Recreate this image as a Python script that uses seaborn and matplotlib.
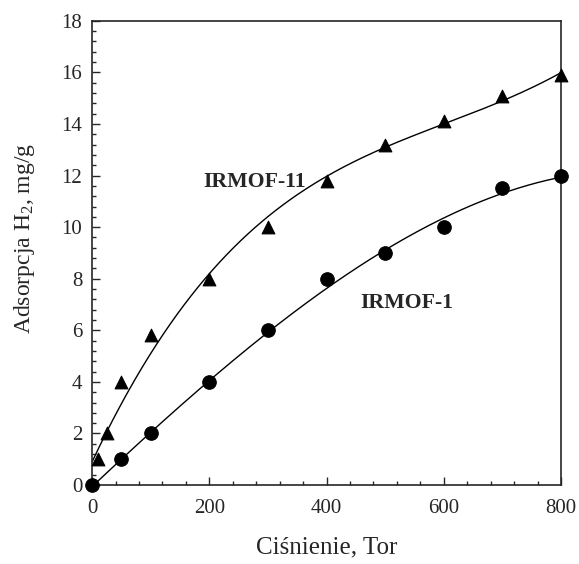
import matplotlib
matplotlib.use('Agg')

import numpy as np
import pandas as pd
import matplotlib.pyplot as plt
import seaborn as sns
from matplotlib.ticker import MultipleLocator

# =========================
# DATA
# =========================
irmof11_p = [10, 25, 50, 100, 200, 300, 400, 500, 600, 700, 800]
irmof11_q = [1.0, 2.0, 4.0, 5.8, 8.0, 10.0, 11.8, 13.2, 14.1, 15.1, 15.9]

irmof1_p = [0, 50, 100, 200, 300, 400, 500, 600, 700, 800]
irmof1_q = [0.0, 1.0, 2.0, 4.0, 6.0, 8.0, 9.0, 10.0, 11.5, 12.0]

# fitted curves as drawn in the figure
fit11_p = [0, 25, 50, 100, 150, 200, 300, 400, 500, 600, 700, 800]
fit11_q = [0.85, 2.1, 3.05, 5.35, 6.85, 7.9, 10.4, 12.1, 13.1, 13.95, 14.9, 16.0]

fit1_p = [0, 100, 200, 300, 400, 500, 600, 700, 800]
fit1_q = [0.0, 1.95, 4.0, 6.0, 7.65, 9.15, 10.35, 11.2, 12.0]

# =========================
# STYLE
# =========================
sns.set_style('ticks')
plt.rcParams['font.family'] = ['Liberation Serif', 'DejaVu Serif']
plt.rcParams['mathtext.fontset'] = 'custom'
plt.rcParams['mathtext.rm'] = 'Liberation Serif'
plt.rcParams['mathtext.it'] = 'Liberation Serif:italic'

fig = plt.figure(figsize=(5.79, 5.64), dpi=100)
ax = fig.add_axes([0.159, 0.140, 0.810, 0.823])

# smooth the read curve points
def smooth(px, qy, deg):
    c = np.polyfit(px, qy, deg)
    xs = np.linspace(min(px), max(px), 200)
    return pd.DataFrame({'p': xs, 'q': np.polyval(c, xs)})

c11 = smooth(fit11_p, fit11_q, 4)
c1 = smooth(fit1_p, fit1_q, 3)

sns.lineplot(data=c11, x='p', y='q', ax=ax, color='black', lw=1.0)
sns.lineplot(data=c1, x='p', y='q', ax=ax, color='black', lw=1.0)

sns.scatterplot(x=irmof11_p, y=irmof11_q, ax=ax, marker='^', s=85,
                color='black', edgecolor='black', zorder=3, clip_on=False)
sns.scatterplot(x=irmof1_p, y=irmof1_q, ax=ax, marker='o', s=95,
                color='black', edgecolor='black', zorder=3, clip_on=False)

ax.text(190, 11.75, 'IRMOF-11', fontsize=15.7, fontweight='bold', va='center', ha='left')
ax.text(457, 7.05, 'IRMOF-1', fontsize=15.7, fontweight='bold', va='center', ha='left')

ax.set_xlim(0, 800)
ax.set_ylim(0, 18)
ax.xaxis.set_major_locator(MultipleLocator(200))
ax.xaxis.set_minor_locator(MultipleLocator(40))
ax.yaxis.set_major_locator(MultipleLocator(2))
ax.yaxis.set_minor_locator(MultipleLocator(0.4))
ax.tick_params(which='both', direction='in', labelsize=15, width=1.0)
ax.tick_params(which='major', length=6)
ax.tick_params(which='minor', length=3)
ax.tick_params(axis='x', which='major', pad=10)
ax.tick_params(axis='y', which='major', pad=7)
for s in ax.spines.values():
    s.set_linewidth(1.2)

ax.set_xlabel('Ciśnienie, Tor', fontsize=18)
ax.set_ylabel('Adsorpcja H$_2$, mg/g', fontsize=17)
ax.xaxis.set_label_coords(0.5, -0.11)
ax.yaxis.set_label_coords(-0.117, 0.532)

plt.savefig('out.png', dpi=100)
